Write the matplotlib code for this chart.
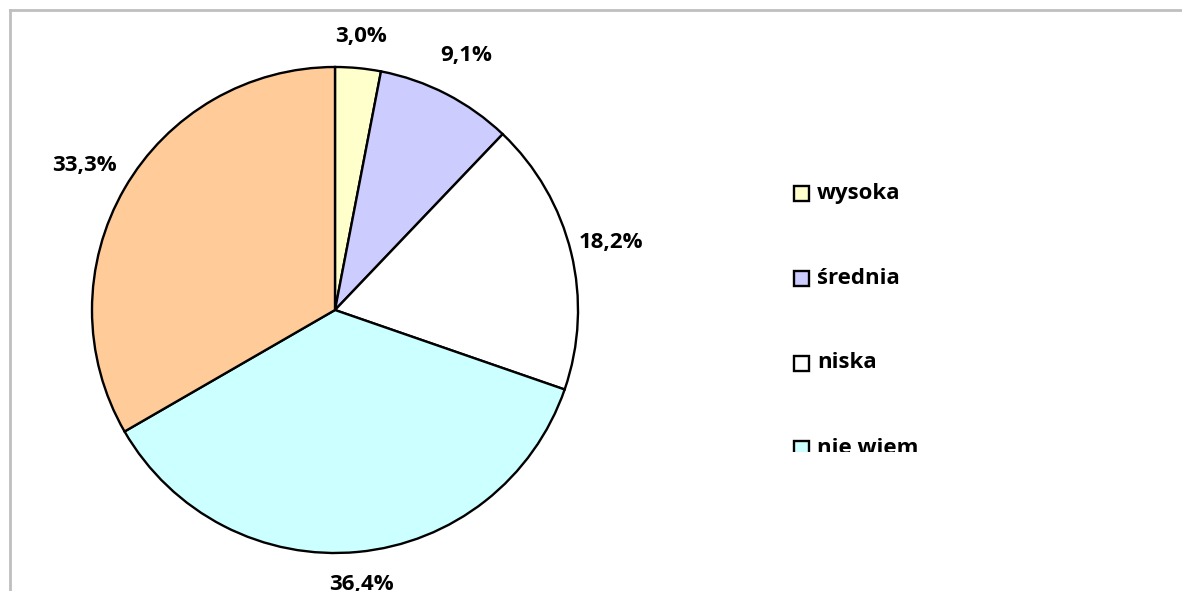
#!/usr/bin/env python3

# Pie chart of answers with a legend that is cut off at the bottom

import matplotlib
matplotlib.use('Agg')
import matplotlib.pyplot as plt
from matplotlib.patches import Rectangle

# Data (33 respondents)
categories = ['wysoka', 'średnia', 'niska', 'nie wiem', 'trudno powiedzieć']
counts = [1, 3, 6, 12, 11]
colours = ['#FFFFCC', '#CCCCFF', '#FFFFFF', '#CCFFFF', '#FFCC99']
# only these legend rows fit in the chart area
legend_shown = 4
# how far out each percentage sits (in radii)
label_dist = [1.13, 1.18, 1.17, 1.135, 1.19]

plt.rcParams['font.family'] = ['Open Sans', 'DejaVu Sans']
plt.rcParams['font.weight'] = 'bold'

W, H = 1182, 591
fig = plt.figure(figsize=(W / 100, H / 100), dpi=100)

# Grey chart border: only top and left edges are visible
fig.add_artist(plt.Line2D([10 / W, 1], [1 - 10 / H, 1 - 10 / H],
                          color='#BFBFBF', lw=2, transform=fig.transFigure))
fig.add_artist(plt.Line2D([10 / W, 10 / W], [0, 1 - 10 / H],
                          color='#BFBFBF', lw=2, transform=fig.transFigure))

# Pie: centre (335, 310) px, radius 243 px
cx, cy, r = 335, 310, 243
ax = fig.add_axes([(cx - r) / W, (H - cy - r) / H, 2 * r / W, 2 * r / H])
wedges, texts, autotexts = ax.pie(
    counts, colors=colours, startangle=90, counterclock=False, radius=1,
    autopct=lambda p: f'{p:.1f}%'.replace('.', ','), pctdistance=1.0,
    wedgeprops={'edgecolor': 'black', 'linewidth': 1.7})
for t, d in zip(autotexts, label_dist):
    x, y = t.get_position()
    t.set_position((x * d, y * d))
    t.set_fontsize(16)
    t.set_fontweight('bold')
ax.set_xlim(-1, 1)
ax.set_ylim(-1, 1)
ax.set_aspect('equal')
ax.axis('off')

# Legend, clipped to its box so the last row is cut like in the source
lx0, ly_top, ly_bot, lx1 = 780, 170, 452, 1000
lax = fig.add_axes([lx0 / W, (H - ly_bot) / H, (lx1 - lx0) / W,
                    (ly_bot - ly_top) / H])
lax.set_xlim(lx0, lx1)
lax.set_ylim(ly_bot, ly_top)
lax.axis('off')
row_y = [193, 278, 363, 448]
box = 15
for i in range(legend_shown):
    y = row_y[i]
    lax.add_patch(Rectangle((794, y - box / 2), box, box,
                            facecolor=colours[i], edgecolor='black',
                            lw=1.7, clip_on=True))
    lax.text(817, y, categories[i], fontsize=16, fontweight='bold',
             va='center', ha='left', clip_on=True)

fig.savefig('out.png', dpi=100)
